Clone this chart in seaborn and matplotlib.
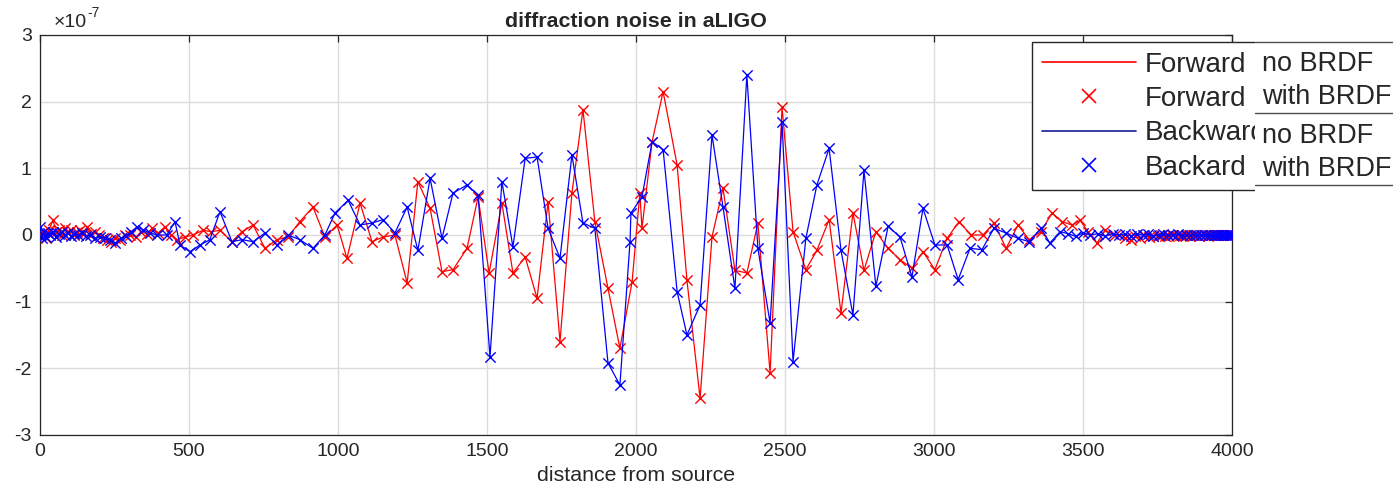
import numpy as np
import pandas as pd
import matplotlib
matplotlib.use("Agg")
import matplotlib.pyplot as plt
import seaborn as sns
from matplotlib.lines import Line2D
from matplotlib.patches import Rectangle

# ---------------- data (y in units of 1e-7) ----------------
red_x = [0, 10, 20, 30, 44, 54, 64, 74, 84, 94,
         104, 114, 124, 134, 148, 158, 171, 185, 198, 211,
         225, 238, 252, 268, 285, 302, 322, 339, 359, 376,
         396, 419, 440, 460, 487, 513, 547, 574, 604, 644,
         678, 715, 755, 795, 832, 872, 916, 956, 997, 1030,
         1074, 1114, 1151, 1191, 1232, 1268, 1309, 1349, 1386, 1433,
         1470, 1507, 1550, 1587, 1628, 1668, 1705, 1745, 1785, 1822,
         1862, 1906, 1946, 1987, 2013, 2020, 2054, 2091, 2138, 2171,
         2215, 2255, 2292, 2332, 2372, 2409, 2450, 2490, 2527, 2570,
         2607, 2648, 2688, 2728, 2765, 2805, 2846, 2886, 2926, 2963,
         3003, 3044, 3084, 3124, 3164, 3201, 3242, 3282, 3319, 3359,
         3396, 3430, 3463, 3490, 3517, 3547, 3574, 3607, 3641,
         3660, 3675, 3690, 3705, 3720, 3735, 3750, 3762, 3775, 3787,
         3800, 3812, 3824, 3836, 3848, 3860, 3870, 3880, 3890, 3900,
         3910, 3918, 3926, 3934, 3942, 3950, 3957, 3964, 3970, 3976,
         3982, 3987, 3992, 3996, 4000]
red_y = [0.0, 0.05, -0.05, 0.08, 0.22, 0.05, 0.08, 0.0, 0.1, 0.05,
         0.08, 0.0, 0.05, 0.08, 0.03, 0.12, 0.02, 0.05, 0.0, -0.05,
         -0.08, -0.1, -0.05, -0.08, 0.0, 0.0, -0.03, 0.05, 0.02, 0.1,
         0.03, 0.12, 0.0, -0.07, -0.03, 0.0, 0.07, 0.05, 0.07, -0.1,
         0.05, 0.15, -0.2, -0.07, -0.03, 0.2, 0.42, -0.03, 0.15, -0.35,
         0.48, -0.1, -0.03, 0.0, -0.72, 0.8, 0.4, -0.55, -0.52, -0.2,
         0.57, -0.57, 0.48, -0.57, -0.33, -0.95, 0.5, -1.6, 0.63, 1.88,
         0.2, -0.8, -1.7, -0.7, 0.63, 0.1, 1.4, 2.15, 1.05, -0.68,
         -2.45, -0.03, 0.7, -0.53, -0.57, 0.18, -2.07, 1.92, 0.05, -0.52,
         -0.23, 0.23, -1.17, 0.33, -0.53, 0.05, -0.2, -0.37, -0.5, -0.25,
         -0.52, -0.05, 0.2, 0.0, 0.0, 0.18, -0.2, 0.15, -0.07, 0.05,
         0.33, 0.2, 0.15, 0.22, 0.05, -0.12, 0.07, 0.0, -0.05,
         -0.08, -0.02, -0.05, 0.0, -0.03, -0.01, -0.02, 0.0, -0.02, -0.01,
         0.0, -0.02, 0.0, -0.01, 0.0, -0.01, 0.0, 0.0, -0.01, 0.0,
         0.0, -0.01, 0.0, 0.0, 0.0, 0.0, 0.0, 0.0, 0.0, 0.0,
         0.0, 0.0, 0.0, 0.0, 0.0]

blue_x = [0, 7, 13, 20, 27, 34, 44, 54, 64, 74,
          84, 94, 104, 114, 128, 141, 154, 168, 185, 201,
          218, 235, 252, 272, 289, 305, 326, 346, 369, 393,
          426, 453, 470, 503, 537, 570, 604, 644, 678, 715,
          755, 795, 832, 872, 916, 956, 990, 1034, 1074, 1114,
          1151, 1191, 1232, 1268, 1309, 1349, 1386, 1433, 1470, 1510,
          1550, 1587, 1628, 1668, 1705, 1745, 1785, 1822, 1862, 1906,
          1946, 1980, 1983, 2020, 2054, 2091, 2138, 2171, 2215, 2255,
          2292, 2332, 2372, 2409, 2450, 2490, 2527, 2570, 2607, 2648,
          2688, 2728, 2765, 2805, 2846, 2886, 2926, 2963, 3003, 3044,
          3081, 3121, 3161, 3201, 3242, 3282, 3319, 3359, 3389, 3423,
          3450, 3475, 3500, 3525, 3550, 3575, 3600, 3620, 3640, 3660,
          3680, 3700, 3718, 3736, 3754, 3770, 3786, 3802, 3818, 3832,
          3846, 3860, 3872, 3884, 3896, 3908, 3918, 3928, 3938, 3946,
          3954, 3962, 3969, 3976, 3982, 3988, 3993, 3997, 4000]
blue_y = [0.12, -0.05, 0.05, -0.03, 0.03, 0.0, 0.05, -0.03, 0.02, 0.05,
          0.0, 0.03, -0.02, 0.02, 0.0, 0.03, -0.02, 0.0, -0.05, -0.03,
          -0.05, -0.08, -0.12, -0.05, -0.02, 0.05, 0.12, 0.08, 0.03, 0.0,
          0.0, 0.2, -0.15, -0.25, -0.15, -0.07, 0.35, -0.1, -0.07, -0.1,
          0.03, -0.15, 0.0, -0.07, -0.2, 0.0, 0.33, 0.52, 0.15, 0.18,
          0.23, 0.03, 0.42, -0.23, 0.85, -0.05, 0.63, 0.75, 0.6, -1.83,
          0.8, -0.18, 1.15, 1.17, 0.1, -0.35, 1.2, 0.18, 0.1, -1.92,
          -2.25, -0.1, 0.33, 0.57, 1.4, 1.28, -0.85, -1.5, -1.05, 1.5,
          0.42, -0.8, 2.4, -0.2, -1.32, 1.7, -1.9, -0.05, 0.75, 1.3,
          -0.23, -1.2, 0.97, -0.77, 0.13, -0.03, -0.63, 0.4, -0.15, -0.15,
          -0.67, -0.2, -0.22, 0.1, 0.03, -0.05, -0.1, 0.1, -0.12, 0.05,
          0.02, -0.02, 0.03, 0.0, 0.02, -0.02, 0.02, 0.0, 0.01, -0.01,
          0.01, 0.0, 0.01, -0.01, 0.0, 0.01, 0.0, 0.0, 0.01, 0.0,
          0.0, 0.0, 0.0, 0.0, 0.0, 0.0, 0.0, 0.0, 0.0, 0.0,
          0.0, 0.0, 0.0, 0.0, 0.0, 0.0, 0.0, 0.0, 0.0]

x_ticks = [0, 500, 1000, 1500, 2000, 2500, 3000, 3500, 4000]
y_ticks = [-3, -2, -1, 0, 1, 2, 3]
title_text = "diffraction noise in aLIGO"
xlabel_text = "distance from source"
legend_labels = ["Forward", "Forward", "Backward", "Backard"]
overlay_labels = ["no BRDF", "with BRDF", "no BRDF", "with BRDF"]

# ---------------- style ----------------
sns.set_style("white")
plt.rcParams['font.family'] = ['Liberation Sans', 'DejaVu Sans']
plt.rcParams['axes.unicode_minus'] = False

W, H = 1393, 491
fig = plt.figure(figsize=(W / 100, H / 100), dpi=100)
ax = fig.add_axes([40 / W, 1 - 435 / H, 1192 / W, 400 / H])

RED = (1, 0, 0)
BLUE = (0, 0, 1)
dark = '0.15'

red = pd.DataFrame({"x": red_x, "y": red_y})
blue = pd.DataFrame({"x": blue_x, "y": blue_y})

sns.lineplot(data=red, x="x", y="y", sort=False, estimator=None,
             color=RED, lw=0.9, ax=ax, zorder=3)
sns.scatterplot(data=red, x="x", y="y", marker="x", color=RED,
                s=55, linewidth=1.0, ax=ax, zorder=4)
sns.lineplot(data=blue, x="x", y="y", sort=False, estimator=None,
             color=BLUE, lw=0.9, ax=ax, zorder=5)
sns.scatterplot(data=blue, x="x", y="y", marker="x", color=BLUE,
                s=55, linewidth=1.0, ax=ax, zorder=6)

ax.set_xlim(0, 4000)
ax.set_ylim(-3, 3)
ax.set_xticks(x_ticks)
ax.set_yticks(y_ticks)
ax.set_xticklabels([str(t) for t in x_ticks])
ax.set_yticklabels([str(t) for t in y_ticks])
ax.grid(True, color='0.86', lw=1.0)
ax.set_axisbelow(True)
for s in ax.spines.values():
    s.set_visible(True)
    s.set_color(dark)
    s.set_linewidth(0.9)
ax.tick_params(direction='in', top=True, right=True, length=5, width=0.9,
               color=dark, labelsize=14, labelcolor=dark, pad=6)
ax.set_xlabel(xlabel_text, fontsize=15.4, color=dark, labelpad=4)
ax.set_ylabel("")
ax.set_title(title_text, fontsize=15.4, fontweight='bold', color=dark, pad=6)
# exponent label (MATLAB style)
ax.annotate('\u00d710', xy=(0, 1), xycoords='axes fraction',
            xytext=(10, 3), textcoords='offset points', ha='left', va='bottom',
            fontsize=14, color=dark)
ax.annotate('-7', xy=(0, 1), xycoords='axes fraction',
            xytext=(34, 11), textcoords='offset points', ha='left', va='bottom',
            fontsize=10, color=dark)

# ---------------- legend ----------------
handles = [Line2D([], [], color=RED, lw=1.2),
           Line2D([], [], color=RED, marker='x', ls='none', ms=10, mew=1.2),
           Line2D([], [], color=(0.1, 0.1, 0.6), lw=1.2),
           Line2D([], [], color=BLUE, marker='x', ls='none', ms=10, mew=1.2)]
leg = ax.legend(handles, legend_labels, loc='upper left',
                bbox_to_anchor=(1032 / W, 1 - 42 / H), bbox_transform=fig.transFigure,
                fontsize=20, frameon=True, fancybox=False, edgecolor=dark,
                framealpha=1, borderpad=0.35, labelspacing=0.3,
                handlelength=3.4, handletextpad=0.3, borderaxespad=0)
leg.get_frame().set_linewidth(1.0)
for t in leg.get_texts():
    t.set_color(dark)

# overlay panel on the right with the second half of the labels
fig.add_artist(Rectangle((1255 / W, 1 - 200 / H), (W - 1255) / W, 160 / H,
                         transform=fig.transFigure, facecolor='white',
                         edgecolor='none', zorder=10))
for yy in (42, 113, 185):
    fig.add_artist(Line2D([1255 / W, 1.0], [1 - yy / H, 1 - yy / H],
                          transform=fig.transFigure, color='0.3', lw=1.0, zorder=11))
for lab, yb in zip(overlay_labels, (71, 104, 143, 176)):
    fig.text(1262 / W, 1 - yb / H, lab, fontsize=19.5, color=dark,
             ha='left', va='baseline', zorder=12)

fig.savefig("out.png", dpi=100)
